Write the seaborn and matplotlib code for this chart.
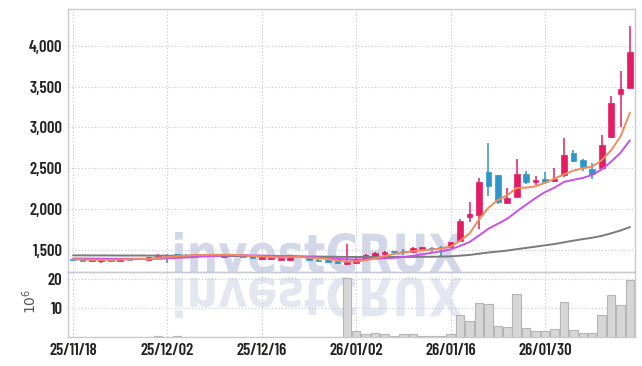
import numpy as np
import pandas as pd
import matplotlib
matplotlib.use('Agg')
import matplotlib.pyplot as plt
import seaborn as sns
from matplotlib.textpath import TextPath
from matplotlib.patches import PathPatch
from matplotlib.font_manager import FontProperties
from matplotlib.transforms import Affine2D

# trading days shown on the chart
dates = ['25/11/18', '25/11/19', '25/11/20', '25/11/21', '25/11/24', '25/11/25', '25/11/26', '25/11/27', '25/11/28',
         '25/12/01', '25/12/02', '25/12/03', '25/12/04', '25/12/05', '25/12/08', '25/12/09', '25/12/10', '25/12/11',
         '25/12/12', '25/12/15', '25/12/16', '25/12/17', '25/12/18', '25/12/19', '25/12/22', '25/12/23', '25/12/24',
         '25/12/26', '25/12/29', '25/12/30', '26/01/02', '26/01/05', '26/01/06', '26/01/07', '26/01/08', '26/01/09',
         '26/01/12', '26/01/13', '26/01/14', '26/01/15', '26/01/16', '26/01/19', '26/01/20', '26/01/21', '26/01/22',
         '26/01/23', '26/01/26', '26/01/27', '26/01/28', '26/01/29', '26/01/30', '26/02/02', '26/02/03', '26/02/04',
         '26/02/05', '26/02/06', '26/02/09', '26/02/10', '26/02/11', '26/02/12']

open_ = [1390, 1383, 1363, 1367, 1383, 1367, 1391, 1383, 1375, 1408, 1440, 1448, 1440, 1424, 1448,
         1428, 1412, 1440, 1432, 1424, 1391, 1387, 1375, 1379, 1406, 1405, 1370, 1375, 1367, 1322,
         1338, 1387, 1408, 1453, 1481, 1485, 1469, 1510, 1526, 1538, 1535, 1608, 1906, 1927, 2449,
         2416, 2077, 2151, 2429, 2327, 2368, 2343, 2417, 2687, 2601, 2490, 2507, 2879, 3415, 3488]
high = [1395, 1387, 1395, 1395, 1391, 1395, 1395, 1403, 1412, 1444, 1448, 1452, 1448, 1452, 1452,
        1444, 1440, 1444, 1436, 1428, 1420, 1404, 1408, 1432, 1414, 1410, 1385, 1378, 1370, 1571,
        1400, 1444, 1473, 1485, 1485, 1506, 1538, 1540, 1530, 1547, 1600, 1873, 2082, 2384, 2805,
        2416, 2253, 2609, 2470, 2410, 2450, 2499, 2867, 2723, 2609, 2560, 2907, 3390, 3692, 4244]
low = [1366, 1360, 1360, 1334, 1355, 1363, 1375, 1379, 1371, 1404, 1342, 1428, 1428, 1420, 1436,
       1424, 1408, 1424, 1412, 1396, 1387, 1383, 1371, 1375, 1400, 1376, 1360, 1346, 1326, 1318,
       1330, 1383, 1404, 1436, 1436, 1440, 1465, 1500, 1477, 1424, 1530, 1606, 1845, 1751, 2159,
       2061, 2077, 2151, 2307, 2300, 2307, 2335, 2389, 2573, 2466, 2364, 2499, 2867, 3009, 3488]
close = [1372, 1363, 1391, 1391, 1363, 1391, 1379, 1399, 1408, 1440, 1424, 1432, 1436, 1448, 1440,
         1440, 1436, 1428, 1416, 1400, 1416, 1400, 1404, 1428, 1410, 1380, 1366, 1350, 1334, 1346,
         1393, 1436, 1465, 1477, 1473, 1477, 1518, 1534, 1514, 1530, 1595, 1857, 1939, 2335, 2281,
         2090, 2135, 2429, 2335, 2356, 2327, 2368, 2662, 2593, 2519, 2429, 2785, 3296, 3472, 3921]

# moving average lines
ma5 = [1385, 1380, 1378, 1377, 1376, 1380, 1383, 1385, 1388, 1403, 1410, 1421, 1428, 1436, 1436,
       1439, 1440, 1438, 1432, 1424, 1419, 1412, 1407, 1410, 1412, 1404, 1398, 1387, 1368, 1355,
       1358, 1372, 1395, 1423, 1449, 1466, 1482, 1496, 1503, 1515, 1540, 1610, 1700, 1870, 2015,
       2110, 2170, 2258, 2262, 2278, 2322, 2372, 2425, 2470, 2500, 2520, 2598, 2720, 2890, 3183]
ma10 = [1394, 1393, 1392, 1391, 1390, 1390, 1390, 1390, 1390, 1390, 1395, 1402, 1406, 1412, 1420,
        1425, 1430, 1433, 1434, 1430, 1429, 1426, 1423, 1421, 1418, 1412, 1405, 1397, 1389, 1383,
        1381, 1385, 1391, 1396, 1402, 1412, 1427, 1445, 1463, 1482, 1505, 1548, 1595, 1675, 1758,
        1819, 1881, 1971, 2053, 2135, 2208, 2262, 2332, 2358, 2381, 2418, 2485, 2580, 2690, 2842]
ma60 = [1432, 1432, 1431, 1431, 1431, 1430, 1430, 1430, 1429, 1429, 1428, 1428, 1428, 1427, 1427,
        1426, 1426, 1425, 1425, 1424, 1423, 1422, 1421, 1420, 1419, 1418, 1417, 1416, 1414, 1413,
        1412, 1412, 1412, 1412, 1412, 1412, 1413, 1414, 1415, 1417, 1420, 1428, 1437, 1452, 1467,
        1478, 1491, 1508, 1523, 1539, 1555, 1571, 1592, 1612, 1631, 1648, 1671, 1702, 1737, 1779]

# volume, millions of shares
volume = [0.1, 0.1, 0.1, 0.1, 0.1, 0.1, 0.1, 0.1, 0.1, 0.6, 0.1, 0.6, 0.1, 0.1, 0.1,
          0.1, 0.1, 0.1, 0.1, 0.1, 0.1, 0.1, 0.1, 0.1, 0.1, 0.1, 0.1, 0.1, 0.1, 20.4,
          2.3, 1.3, 1.6, 1.3, 0.6, 1.3, 1.3, 0.6, 0.6, 0.6, 1.3, 7.7, 5.7, 11.8, 11.5,
          3.9, 3.5, 14.9, 3.2, 2.3, 2.3, 3.0, 12.2, 2.6, 1.6, 1.6, 7.7, 14.5, 11.1, 19.7]

df = pd.DataFrame({'date': dates, 'open': open_, 'high': high, 'low': low, 'close': close,
                   'ma5': ma5, 'ma10': ma10, 'ma60': ma60, 'volume': volume})
df['idx'] = np.arange(len(df))

UP = '#e51c64'
DOWN = '#2e96c8'
GRID = '#c3c6da'
SPINE = '#c9cad6'

sns.set_theme(style='white')
plt.rcParams['font.family'] = ['Barlow Condensed', 'DejaVu Sans']

fig = plt.figure(figsize=(6.42, 3.66), dpi=100)
ax = fig.add_axes([68 / 642, 94 / 366, 567 / 642, 263 / 366])
axv = fig.add_axes([68 / 642, 29 / 366, 567 / 642, 65 / 366], sharex=ax)
for a in (ax, axv):
    a.set_facecolor('none')

# watermark with its reflection
fp = FontProperties(family='DejaVu Sans', weight='bold')
tp = TextPath((0, 0), 'investCRUX', size=1, prop=fp)
ext = tp.get_extents()
sx = (462 - 175) / 100 / ext.width
sy = (134 - 93) / 100 / ext.height
tr = Affine2D().translate(-ext.x0, -ext.y0).scale(sx, sy).translate(175 / 100, 93 / 100) + fig.dpi_scale_trans
fig.patches.append(PathPatch(tp, transform=tr, facecolor='#d3d7e7', edgecolor='none', zorder=-1))
tr2 = Affine2D().translate(-ext.x0, -ext.y0).scale(sx, -sy).translate(175 / 100, 89 / 100) + fig.dpi_scale_trans
fig.patches.append(PathPatch(tp, transform=tr2, facecolor='#e4e6f0', edgecolor='none', zorder=-1))

# candles
colors = np.where(df['close'] >= df['open'], UP, DOWN)
ax.vlines(df['idx'], df['low'], df['high'], colors=colors, lw=1.1, zorder=3)
body_h = (df['close'] - df['open']).abs().clip(lower=6)
body_b = df[['open', 'close']].min(axis=1)
ax.bar(df['idx'], body_h, bottom=body_b, width=0.6, color=colors, edgecolor=colors, lw=0.5, zorder=4)

sns.lineplot(data=df, x='idx', y='ma60', ax=ax, color='#7b7b7b', lw=1.4, zorder=5)
sns.lineplot(data=df, x='idx', y='ma10', ax=ax, color='#c850eb', lw=1.4, zorder=5)
sns.lineplot(data=df, x='idx', y='ma5', ax=ax, color='#f08c5a', lw=1.4, zorder=6)

sns.barplot(data=df, x='idx', y='volume', native_scale=True, ax=axv, color='#d6d6d6',
            edgecolor='#b5b5b5', linewidth=0.8, width=0.9, saturation=1)

ax.set_ylim(1228, 4452)
ax.set_yticks([1500, 2000, 2500, 3000, 3500, 4000])
ax.set_yticklabels([f'{v:,}' for v in [1500, 2000, 2500, 3000, 3500, 4000]])
axv.set_ylim(0.2, 22.5)
axv.set_yticks([10, 20])
axv.set_yticklabels(['10', '20'])
axv.set_xlim(-0.53, 59.53)
tick_pos = [0, 10, 20, 30, 40, 50]
axv.set_xticks(tick_pos)
axv.set_xticklabels([dates[i] for i in tick_pos])
ax.tick_params(axis='x', labelbottom=False)

for a in (ax, axv):
    a.set_xlabel('')
    a.set_ylabel('')
    a.grid(True, ls=(0, (1, 2)), color=GRID, lw=0.8)
    a.tick_params(length=0, labelsize=12, colors='#222222', pad=4)
    for s in a.spines.values():
        s.set_color(SPINE)
        s.set_linewidth(1)
    for lab in a.get_xticklabels() + a.get_yticklabels():
        lab.set_fontweight('semibold')

fig.text(30 / 642, 1 - 301 / 366, r'$10^6$', rotation=90, color='#555555', fontsize=10,
         ha='center', va='center')

fig.savefig('out.png', dpi=100)
